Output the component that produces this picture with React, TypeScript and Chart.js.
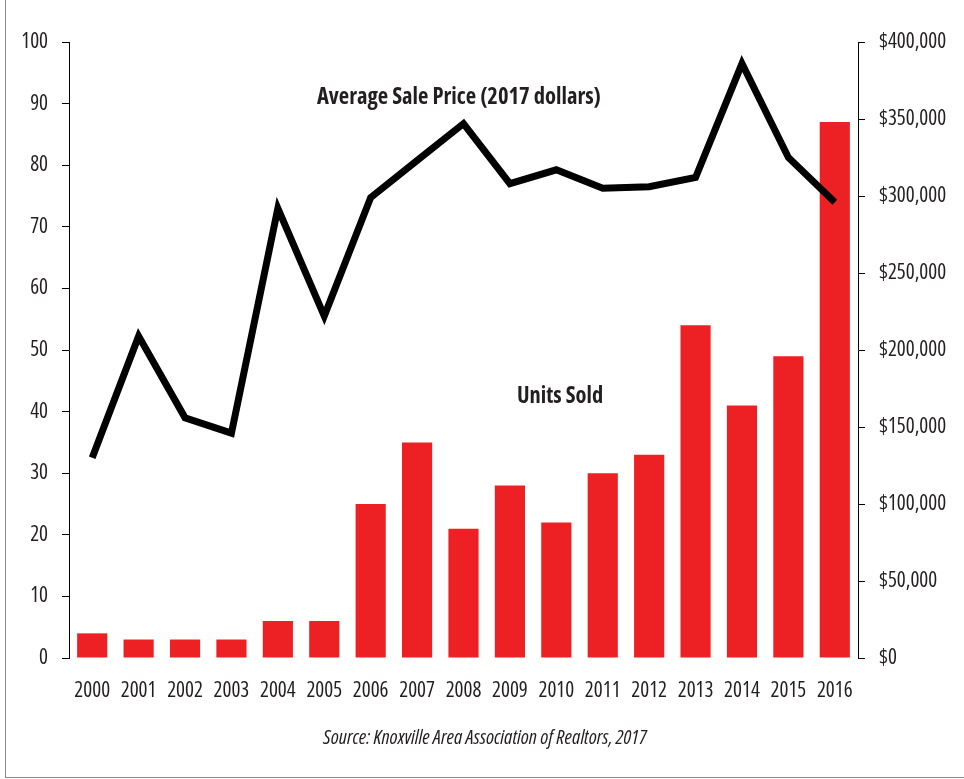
import { useEffect, useRef } from 'react';
import { Chart, registerables } from 'chart.js';
Chart.register(...registerables);

const years = ['2000', '2001', '2002', '2003', '2004', '2005', '2006', '2007', '2008', '2009', '2010', '2011', '2012', '2013', '2014', '2015', '2016'];
const unitsSold = [4, 3, 3, 3, 6, 6, 25, 35, 21, 28, 22, 30, 33, 54, 41, 49, 87];
const avgSalePrice = [130000, 209000, 156000, 146000, 292000, 222000, 299000, 323000, 347000, 308000, 317000, 305000, 306000, 312000, 386000, 325000, 296000];
const unitsTicks = [0, 10, 20, 30, 40, 50, 60, 70, 80, 90, 100];
const priceTicks = [0, 50000, 100000, 150000, 200000, 250000, 300000, 350000, 400000];
const priceLabel = 'Average Sale Price (2017 dollars)';
const unitsLabel = 'Units Sold';
const sourceText = 'Source: Knoxville Area Association of Realtors, 2017';

const FAMILY = "'Open Sans', sans-serif";
const INK = '#231f20';
const tickFont = { family: FAMILY, size: 21, style: 'normal' as const, weight: 'condensed' as any };

const labelsPlugin = {
  id: 'labelsPlugin',
  afterDatasetsDraw(chart: any) {
    const ctx = chart.ctx;
    const xs = chart.scales.x;
    const yl = chart.scales.y;
    ctx.save();
    ctx.fillStyle = INK;
    ctx.textAlign = 'center';
    ctx.textBaseline = 'middle';
    ctx.font = `normal bold condensed 22.6px ${FAMILY}`;
    ctx.fillText(priceLabel, xs.getPixelForValue(7.9), yl.getPixelForValue(91));
    ctx.font = `normal bold condensed 22.4px ${FAMILY}`;
    ctx.fillText(unitsLabel, xs.getPixelForValue(10.08), yl.getPixelForValue(42.4));
    ctx.font = `italic normal condensed 20px ${FAMILY}`;
    ctx.fillText(sourceText, 485, 738);
    ctx.restore();
  },
};

export default function App() {
  const ref = useRef<HTMLCanvasElement>(null);
  useEffect(() => {
    if (!ref.current) return;
    const chart = new Chart(ref.current, {
      type: 'bar',
      data: {
        labels: years,
        datasets: [
          {
            type: 'line',
            label: priceLabel,
            data: avgSalePrice,
            yAxisID: 'y1',
            borderColor: '#000',
            borderWidth: 7,
            pointRadius: 0,
            tension: 0,
            borderJoinStyle: 'miter',
            borderCapStyle: 'butt',
            order: 0,
          } as any,
          {
            type: 'bar',
            label: unitsLabel,
            data: unitsSold,
            yAxisID: 'y',
            backgroundColor: '#ed2024',
            barPercentage: 0.65,
            categoryPercentage: 1,
            order: 1,
          },
        ],
      },
      options: {
        animation: false,
        responsive: true,
        maintainAspectRatio: false,
        layout: { padding: { top: 42, left: 0, right: 0, bottom: 0 } },
        plugins: { legend: { display: false }, tooltip: { enabled: false } },
        scales: {
          x: {
            grid: { display: false, drawTicks: false },
            border: { display: false },
            ticks: { color: INK, font: tickFont, padding: 20, maxRotation: 0, autoSkip: false },
            afterFit(scale: any) { scale.height = 121; },
          },
          y: {
            position: 'left',
            min: 0,
            max: 100,
            afterBuildTicks(scale: any) { scale.ticks = unitsTicks.map((v) => ({ value: v })); },
            grid: { drawOnChartArea: false, drawTicks: true, tickLength: 7, color: '#000', lineWidth: 1 },
            border: { display: true, color: '#000', width: 1 },
            ticks: { color: INK, font: tickFont, padding: 14 },
            afterFit(scale: any) { scale.width = 69; },
          },
          y1: {
            position: 'right',
            min: 0,
            max: 400000,
            afterBuildTicks(scale: any) { scale.ticks = priceTicks.map((v) => ({ value: v })); },
            grid: { drawOnChartArea: false, drawTicks: true, tickLength: 7, color: '#000', lineWidth: 1 },
            border: { display: true, color: '#000', width: 1 },
            ticks: {
              color: INK,
              font: tickFont,
              padding: 14,
              callback: (v: any) => '$' + Number(v).toLocaleString('en-US'),
            },
            afterFit(scale: any) { scale.width = 106; },
          },
        },
      },
      plugins: [labelsPlugin],
    });
    return () => chart.destroy();
  }, []);
  return (
    <div style={{ position: 'fixed', left: 0, top: 0, width: 964, height: 779, background: '#fff' }}>
      <div style={{ position: 'absolute', left: 5, top: 0, width: 959, height: 777, borderLeft: '1px solid #8a8a8a', borderBottom: '1px solid #8a8a8a' }} />
      <canvas ref={ref} style={{ position: 'absolute', left: 0, top: 0, width: 964, height: 779 }} />
    </div>
  );
}
